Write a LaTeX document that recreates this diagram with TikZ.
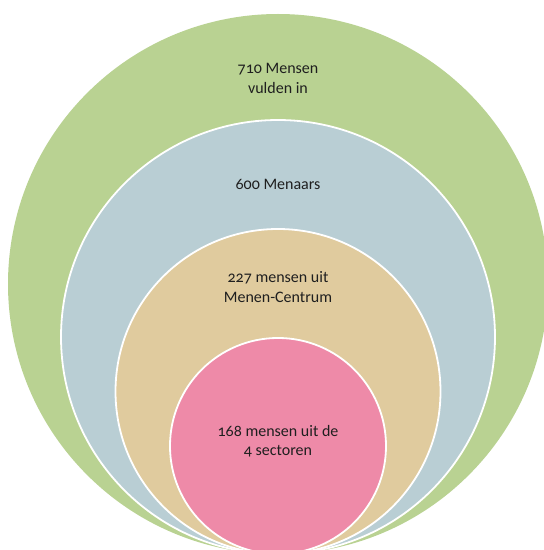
\documentclass[tikz,border=0pt]{standalone}
\usepackage{fontspec}
\setmainfont{Carlito}[Numbers=OldStyle]
\usepackage{xcolor}
\definecolor{allcolor}{RGB}{185,210,146}
\definecolor{menencolor}{RGB}{185,206,212}
\definecolor{centrumcolor}{RGB}{224,203,158}
\definecolor{sectorcolor}{RGB}{238,138,168}
\tikzset{
    ring/.style={circle, inner sep=0pt, draw=white, line width=1.8pt},
    countlabel/.style={align=center, font=\fontsize{16}{19.5}\selectfont, text=black!88}
}

\begin{document}
\begin{tikzpicture}[x=1pt, y=1pt]

    \clip (0,0) rectangle (544,550);

    \node[ring, draw=none, fill=allcolor, minimum size=540pt] (all) at (278,266) {};
    \node[ring, fill=menencolor, minimum size=434pt] (menen) at (278,213) {};
    \node[ring, fill=centrumcolor, minimum size=325pt] (centrum) at (278,158.5) {};
    \node[ring, fill=sectorcolor, minimum size=216pt] (sector) at (278,104) {};

    \node[countlabel] (alltext) at (278,471.5) {710 Mensen\\vulden in};
    \node[countlabel] (menentext) at (278,366) {600 Menaars};
    \node[countlabel] (centrumtext) at (278,263) {227 mensen uit\\Menen-Centrum};
    \node[countlabel] (sectortext) at (278,109) {168 mensen uit de\\4 sectoren};

\end{tikzpicture}
\end{document}
